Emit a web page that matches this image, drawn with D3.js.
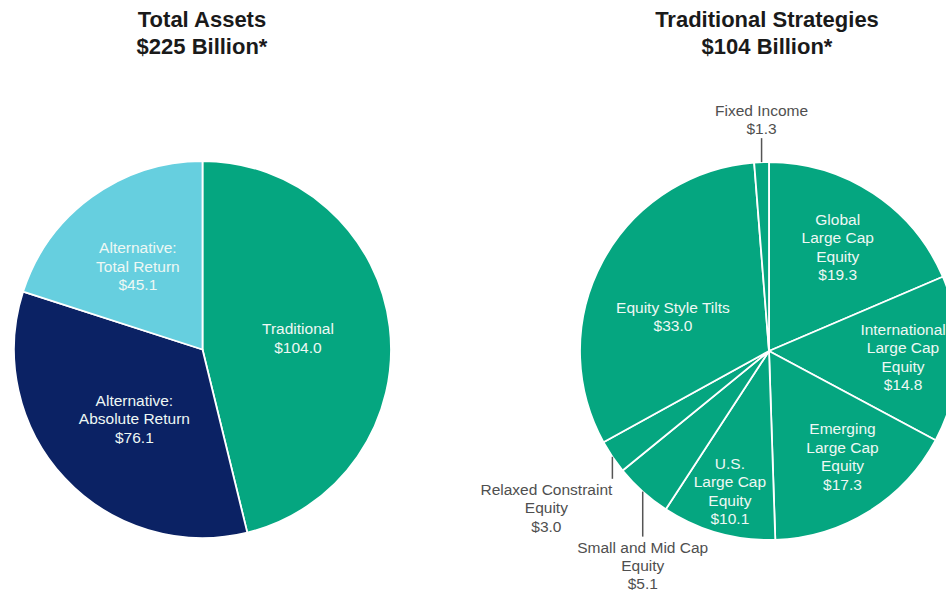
<!DOCTYPE html>
<html lang="en">
  <head>
    <meta charset="utf-8">
    <title>Total Assets and Traditional Strategies</title>
    <script src="https://cdn.jsdelivr.net/npm/d3@7/dist/d3.min.js"></script>
    <style>
      html, body { margin: 0; padding: 0; background: #fff; }
      svg { display: block; font-family: "Liberation Sans", Arial, sans-serif; }
    </style>
  </head>
  <body>
    <script>

       // left pie: total assets, $ billions
       var leftCats = ["Traditional", "Alternative: Absolute Return", "Alternative: Total Return"];
       var leftValues = [104.0, 76.1, 45.1];
       var leftLines = [["Traditional"], ["Alternative:", "Absolute Return"], ["Alternative:", "Total Return"]];
       var leftColors = ["#05a680", "#0b2264", "#66cfdf"];

       // right pie: traditional strategies, $ billions (clockwise from 12 o'clock)
       var rightCats = ["Global Large Cap Equity", "International Large Cap Equity", "Emerging Large Cap Equity",
                        "U.S. Large Cap Equity", "Small and Mid Cap Equity", "Relaxed Constraint Equity",
                        "Equity Style Tilts", "Fixed Income"];
       var rightValues = [19.3, 14.8, 17.3, 10.1, 5.1, 3.0, 33.0, 1.3];
       var rightLines = [["Global", "Large Cap", "Equity"], ["International", "Large Cap", "Equity"],
                         ["Emerging", "Large Cap", "Equity"], ["U.S.", "Large Cap", "Equity"],
                         ["Small and Mid Cap", "Equity"], ["Relaxed Constraint", "Equity"],
                         ["Equity Style Tilts"], ["Fixed Income"]];

       var titles = [["Total Assets", "$225 Billion*"], ["Traditional Strategies", "$104 Billion*"]];

       // label placement: inside labels at radius factor r and angle nudge da (deg);
       // outside labels get a vertical leader of length len and a horizontal shift dx
       var leftPlace = [{r: 0.51, da: 0}, {r: 0.515, da: -2.5}, {r: 0.56, da: -1.7}];
       var rightPlace = [{r: 0.66, da: 0}, {r: 0.71, da: 0}, {r: 0.68, da: -3}, {r: 0.77, da: 0},
                         {out: true, len: 45, dx: 0}, {out: true, len: 22, dx: -66},
                         {r: 0.54, da: -8.6}, {out: true, len: -24, dx: 0}];

       var W = 946, H = 594, LH = 18.4;

       var svg = d3.select("body").append("svg")
                   .attr("width", W)
                   .attr("height", H);

       function fmt(v) { return "$" + d3.format(".1f")(v); }

       function drawPie(cx, cy, R, values, lines, colors, place, title, tx) {
         var g = svg.append("g").attr("transform", "translate(" + cx + "," + cy + ")");
         var pie = d3.pie().sort(null).value(function(d) { return d; });
         var arcs = pie(values);
         var arc = d3.arc().innerRadius(0).outerRadius(R);

         g.selectAll("path")
          .data(arcs)
          .enter().append("path")
          .attr("d", arc)
          .style("fill", function(d, i) { return colors[i % colors.length]; })
          .style("stroke", "#fff")
          .style("stroke-width", 1.8)
          .style("stroke-linejoin", "round");

         arcs.forEach(function(d, i) {
           var p = place[i];
           var txt = lines[i].concat([fmt(values[i])]);
           var mid = (d.startAngle + d.endAngle) / 2;
           if (!p.out) {
             var a = mid + p.da * Math.PI / 180, r = R * p.r;
             var x = r * Math.sin(a), y = -r * Math.cos(a);
             var y0 = y - (txt.length - 1) * LH / 2 + 5.5;
             g.append("text")
              .attr("text-anchor", "middle")
              .style("font-size", "15.5px")
              .style("fill", "#eef8f4")
              .selectAll("tspan")
              .data(txt)
              .enter().append("tspan")
              .attr("x", x)
              .attr("y", function(t, j) { return y0 + j * LH; })
              .text(function(t) { return t; });
           } else {
             var ex = R * Math.sin(mid), ey = -R * Math.cos(mid);
             var ly = ey + p.len;
             g.append("line")
              .attr("x1", ex).attr("y1", ey)
              .attr("x2", ex).attr("y2", ly)
              .style("stroke", "#555")
              .style("stroke-width", 1.5);
             var first = p.len > 0 ? ly + 16 : ly - 4 - (txt.length - 1) * LH;
             g.append("text")
              .attr("text-anchor", "middle")
              .style("font-size", "15.5px")
              .style("fill", "#4f4f4f")
              .selectAll("tspan")
              .data(txt)
              .enter().append("tspan")
              .attr("x", ex + p.dx)
              .attr("y", function(t, j) { return first + j * LH; })
              .text(function(t) { return t; });
           }
         });

         svg.append("text")
            .attr("text-anchor", "middle")
            .style("font-size", "22px")
            .style("font-weight", "bold")
            .style("fill", "#1a1a1a")
            .selectAll("tspan")
            .data(title)
            .enter().append("tspan")
            .attr("x", tx)
            .attr("y", function(t, j) { return 27 + j * 27; })
            .text(function(t) { return t; });
       }

       drawPie(202.5, 349.5, 188.5, leftValues, leftLines, leftColors, leftPlace, titles[0], 202);
       drawPie(769, 351, 189, rightValues, rightLines, ["#05a680"], rightPlace, titles[1], 767);

    </script>
  </body>
</html>
